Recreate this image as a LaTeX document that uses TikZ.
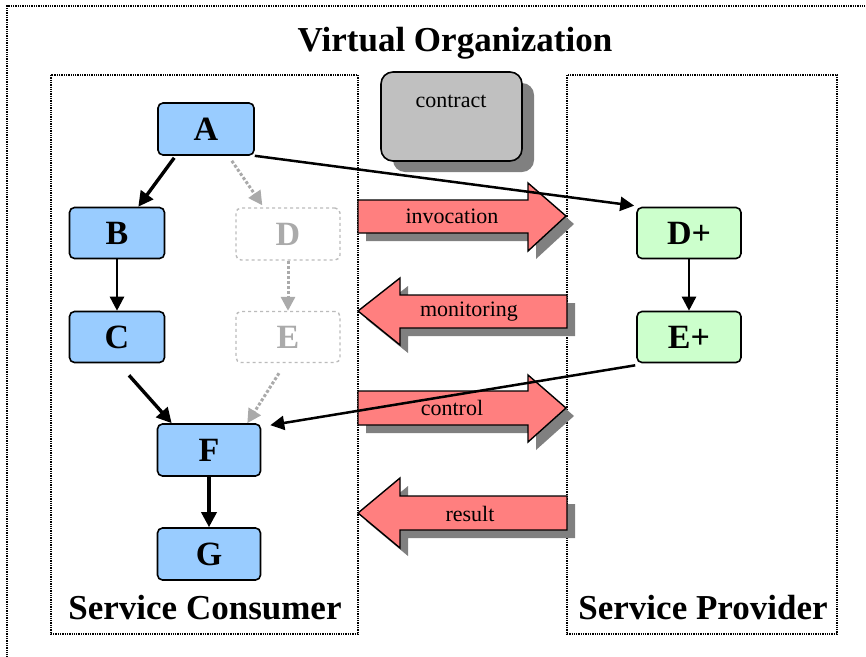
\documentclass[tikz,border=0pt]{standalone}
\usepackage{fontspec}
\setmainfont{Liberation Serif}
\usetikzlibrary{arrows.meta,calc}
\definecolor{consumerblue}{HTML}{99CCFF}
\definecolor{providergreen}{HTML}{CCFFCC}
\definecolor{msgred}{HTML}{FF7F7F}
\definecolor{ghostgray}{HTML}{AAAAAA}
\definecolor{shadowgray}{HTML}{808080}
\definecolor{contractgray}{HTML}{C0C0C0}
\tikzset{
  frame/.style={densely dotted, line width=1.3pt},
  task/.style={draw=black, line width=1.6pt, rounded corners=5pt, inner sep=0pt,
    font=\fontsize{34}{40}\selectfont\bfseries},
  consumer/.style={task, fill=consumerblue},
  provider/.style={task, fill=providergreen},
  ghost/.style={draw=ghostgray!80, dashed, line width=1.4pt, rounded corners=5pt, inner sep=0pt,
    text=ghostgray, font=\fontsize{34}{40}\selectfont\bfseries},
  flow/.style={draw=black, line width=3.4pt, -{Triangle[length=15pt,width=15pt]}},
  thinflow/.style={draw=black, line width=2.5pt, -{Triangle[length=14pt,width=14pt]}},
  ghostflow/.style={draw=ghostgray, line width=3pt, dotted, -{Triangle[length=14pt,width=14pt]}},
  msg/.style={fill=msgred, draw=black, line width=1.4pt},
  msgshadow/.style={fill=shadowgray},
  msglabel/.style={font=\fontsize{22}{24}\selectfont, inner sep=0pt},
  heading/.style={font=\fontsize{35}{40}\selectfont\bfseries, inner sep=0pt},
}
\begin{document}
\begin{tikzpicture}[x=1pt,y=-1pt]
\useasboundingbox (0,0) rectangle (866,656);

% outer frame of the virtual organization
\draw[frame] (7,660) -- (7,6) -- (870,6);
\node[heading] (title) at (455,43) {Virtual Organization};

% consumer and provider frames
\draw[frame] (51,75) rectangle (358,634);
\draw[frame] (567,75) rectangle (837,634);
\node[heading] (consumerlabel) at (205,608) {Service Consumer};
\node[heading] (providerlabel) at (703,608) {Service Provider};

% contract with its shadow
\fill[shadowgray, rounded corners=12pt] (393,83) rectangle (534,172);
\filldraw[fill=contractgray, draw=black, line width=1.6pt, rounded corners=12pt] (381,72) rectangle (522,161);
\node[font=\fontsize{22}{24}\selectfont, inner sep=0pt] (contract) at (451,101) {contract};

% message arrows between the two parties
\begin{scope}[shift={(8,8)}]
  \fill[msgshadow] (358,200) -- (528,200) -- (528,183) -- (566,216) -- (528,251) -- (528,233) -- (358,233) -- cycle;
  \fill[msgshadow] (567,295) -- (400,295) -- (400,278) -- (358,311) -- (400,345) -- (400,328) -- (567,328) -- cycle;
  \fill[msgshadow] (358,391) -- (528,391) -- (528,375) -- (566,408) -- (528,442) -- (528,425) -- (358,425) -- cycle;
  \fill[msgshadow] (567,496) -- (400,496) -- (400,478) -- (358,513) -- (400,548) -- (400,530) -- (567,530) -- cycle;
\end{scope}
\filldraw[msg] (358,200) -- (528,200) -- (528,183) -- (566,216) -- (528,251) -- (528,233) -- (358,233) -- cycle;
\filldraw[msg] (567,295) -- (400,295) -- (400,278) -- (358,311) -- (400,345) -- (400,328) -- (567,328) -- cycle;
\filldraw[msg] (358,391) -- (528,391) -- (528,375) -- (566,408) -- (528,442) -- (528,425) -- (358,425) -- cycle;
\filldraw[msg] (567,496) -- (400,496) -- (400,478) -- (358,513) -- (400,548) -- (400,530) -- (567,530) -- cycle;
\node[msglabel] (invocation) at (452,216) {invocation};
\node[msglabel] (monitoring) at (469,312) {monitoring};
\node[msglabel] (control) at (452,408) {control};
\node[msglabel] (result) at (470,514) {result};

% consumer workflow
\node[consumer, minimum width=96pt, minimum height=52pt] (A) at (206,129) {A};
\node[consumer, minimum width=95pt, minimum height=51pt] (B) at (117,233) {B};
\node[consumer, minimum width=95pt, minimum height=51pt] (C) at (117,337) {C};
\node[consumer, minimum width=103pt, minimum height=52pt] (F) at (209,450) {F};
\node[consumer, minimum width=103pt, minimum height=52pt] (G) at (209,554) {G};
\node[ghost, minimum width=104pt, minimum height=52pt] (D) at (288,234) {D};
\node[ghost, minimum width=104pt, minimum height=51pt] (E) at (288,337) {E};

% provider workflow
\node[provider, minimum width=104pt, minimum height=51pt] (Dp) at (689,233) {D+};
\node[provider, minimum width=104pt, minimum height=51pt] (Ep) at (689,337) {E+};

% local control flow
\draw[flow] ($(A.south west)+(17,2)$) -- ($(B.north east)+(-27,0)$);
\draw[thinflow] (B.south) -- (C.north);
\draw[flow] ($(C.south)+(12,12)$) -- ($(F.north west)+(15,0)$);
\draw[flow] (F.south) -- (G.north);

% part of the flow handed over to the provider
\draw[ghostflow] ($(A.south east)+(-23,5)$) -- ($(D.north west)+(27,-2)$);
\draw[ghostflow] (D.south) -- (E.north);
\draw[ghostflow] ($(E.south)+(-9,10)$) -- ($(F.north east)+(-14,0)$);

% delegation to and back from the provider
\draw[thinflow] (A.south east) -- ($(Dp.north west)+(-2,-1)$);
\draw[thinflow] (Dp.south) -- (Ep.north);
\draw[thinflow] ($(Ep.south west)+(-1,2)$) -- ($(F.north east)+(9,2)$);
\end{tikzpicture}
\end{document}
